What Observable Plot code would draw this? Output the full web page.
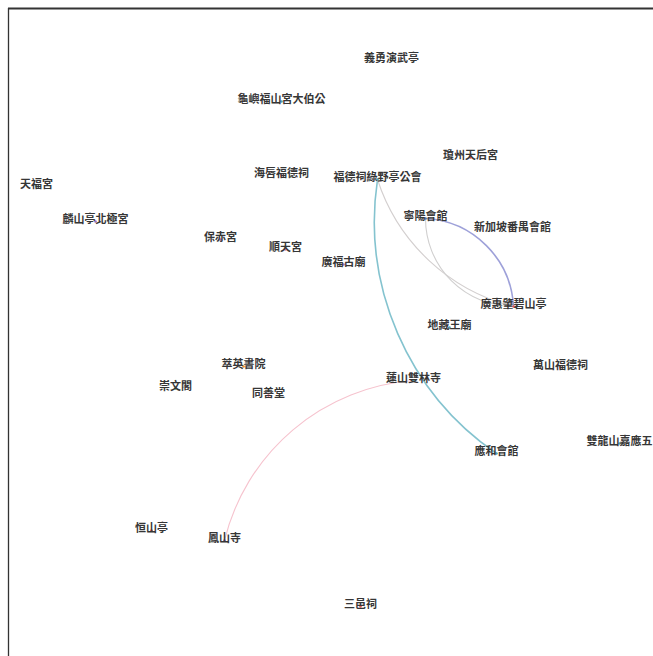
<!DOCTYPE html>
<html>
<head>
<meta charset="utf-8">
<script src="https://cdn.jsdelivr.net/npm/d3@7"></script>
<script src="https://cdn.jsdelivr.net/npm/@observablehq/plot@0.6"></script>
<style>
  html, body { margin: 0; padding: 0; background: #fff; }
  #chart svg { display: block; }
</style>
</head>
<body>
<div id="chart"></div>
<script>
// Node names and layout coordinates
const nodeNames = [
  "義勇演武亭", "龜嶼福山宮大伯公", "瓊州天后宮", "天福宮", "海唇福德祠",
  "福德祠綠野亭公會", "寧陽會館", "新加坡番禺會館", "麟山亭北極宮", "保赤宮",
  "順天宮", "廣福古廟", "廣惠肇碧山亭", "地藏王廟", "萃英書院",
  "萬山福德祠", "崇文閣", "蓮山雙林寺", "同善堂", "雙龍山嘉應五",
  "應和會館", "恒山亭", "鳳山寺", "三邑祠"
];
const nodeX = [391, 281, 470, 36, 281, 377, 425, 512, 95, 220, 285, 343, 513, 449, 243, 560, 175, 413, 268, 619, 496, 151, 224, 360];
const nodeY = [60, 101, 157, 186, 175, 179, 218, 229, 221, 239, 249, 264, 306, 327, 366, 367, 388, 380, 395, 443, 453, 530, 540, 606];
const nodeGroup = ["g","t","r","t","p","t","b","r","v","v","p","v","r","t","o","r","g","t","r","t","t","r","v","r"];

// Edges (source -> target)
const edgeSource = ["福德祠綠野亭公會", "福德祠綠野亭公會", "寧陽會館", "寧陽會館", "蓮山雙林寺"];
const edgeTarget = ["應和會館", "廣惠肇碧山亭", "廣惠肇碧山亭", "廣惠肇碧山亭", "鳳山寺"];

// Styles for edges
const edgeBend = [-32, -29, -45, 42, -36];
const edgeColor = ["#84c3cf", "#d3cfcf", "#d0cfcf", "#9ea1d9", "#f6c3ce"];
const edgeWidth = [1.6, 1.1, 1.1, 1.6, 1.1];
const groupColor = {g: "#59a14f", t: "#4fa3b5", r: "#e15759", p: "#e377a0", b: "#4e79a7", v: "#9a6fc0", o: "#f28e2b"};

const nodes = nodeNames.map((name, i) => ({name, x: nodeX[i], y: nodeY[i], group: nodeGroup[i]}));
const byName = new Map(nodes.map(d => [d.name, d]));
const edges = edgeSource.map((s, i) => ({source: byName.get(s), target: byName.get(edgeTarget[i])}));

const W = 653, H = 656;

const edgeMarks = edges.map((e, i) => Plot.arrow([e], {
  x1: d => d.source.x, y1: d => d.source.y,
  x2: d => d.target.x, y2: d => d.target.y,
  bend: edgeBend[i], headLength: 0,
  stroke: edgeColor[i], strokeWidth: edgeWidth[i]
}));

const chart = Plot.plot({
  width: W, height: H,
  margin: 0,
  x: {domain: [0, W], range: [0, W], axis: null},
  y: {domain: [0, H], range: [0, H], axis: null},
  style: {background: "#fff"},
  marks: [
    Plot.ruleY([8], {x1: 8, x2: W, stroke: "#333", strokeWidth: 2}),
    Plot.ruleX([8], {y1: 8, y2: H, stroke: "#333", strokeWidth: 1.3}),
    ...edgeMarks,
    Plot.dot(nodes, {x: "x", y: "y", r: 1.3, fill: d => groupColor[d.group], stroke: "none"}),
    Plot.text(nodes, {
      x: "x", y: "y", text: "name", dy: -2,
      fontSize: 11, fontWeight: "bold", fill: "#363636",
      fontFamily: "'Noto Sans CJK TC', 'Noto Sans CJK SC', sans-serif"
    })
  ]
});
document.getElementById("chart").append(chart);
</script>
</body>
</html>
